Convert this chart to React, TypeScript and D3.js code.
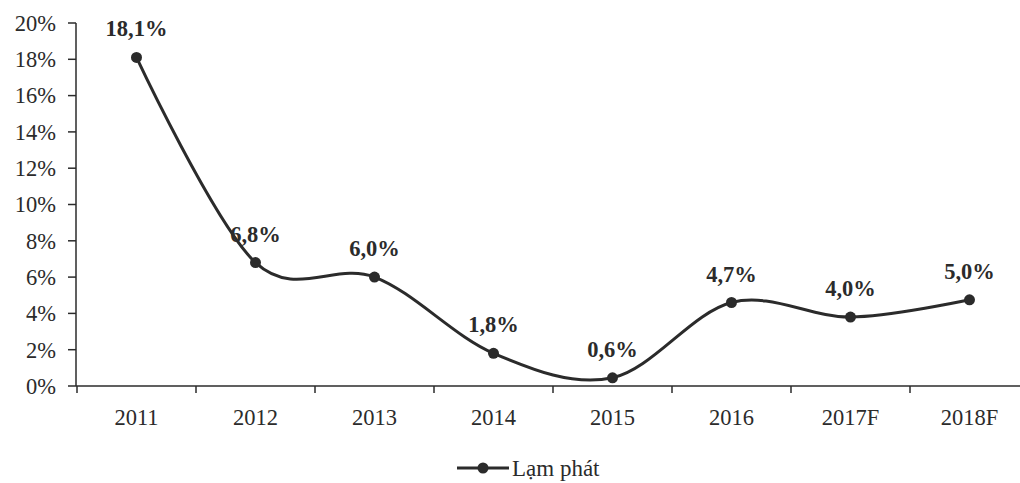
import React from "react";
import * as d3 from "d3";

const categories = ["2011", "2012", "2013", "2014", "2015", "2016", "2017F", "2018F"];
const inflation = [18.1, 6.8, 6.0, 1.8, 0.45, 4.6, 3.8, 4.75];
const pointLabels = ["18,1%", "6,8%", "6,0%", "1,8%", "0,6%", "4,7%", "4,0%", "5,0%"];
const yTicks = [0, 2, 4, 6, 8, 10, 12, 14, 16, 18, 20];
const seriesName = "Lạm phát";

const W = 1020;
const H = 483;

export default function App() {
  const x = d3.scaleBand<string>().domain(categories).range([77, 77 + 119 * 8]);
  const y = d3.scaleLinear().domain([0, 20]).range([386, 23]);
  const cx = (c: string) => (x(c) as number) + x.bandwidth() / 2;
  const pts: [number, number][] = categories.map((c, i) => [cx(c), y(inflation[i])]);
  const line = d3.line().curve(d3.curveCardinal.tension(0))(pts) || "";
  const ink = "#2b2b2b";
  const font = "'Liberation Serif', 'DejaVu Serif', serif";
  return (
    <svg width={W} height={H} style={{ position: "absolute", left: 0, top: 0, background: "#fff" }} fontFamily={font}>
      {/* y axis */}
      <line x1={76} x2={76} y1={y(20)} y2={y(0)} stroke={ink} strokeWidth={1.5} />
      {yTicks.map((t) => (
        <g key={t}>
          <line x1={68} x2={76} y1={y(t)} y2={y(t)} stroke={ink} strokeWidth={1.5} />
          <text x={56} y={y(t)} dy="0.35em" textAnchor="end" fontSize={22.5} fill={ink}>
            {t}%
          </text>
        </g>
      ))}
      {/* x axis */}
      <line x1={76} x2={W} y1={y(0)} y2={y(0)} stroke={ink} strokeWidth={1.5} />
      {categories.map((c) => (
        <line key={"t" + c} x1={x(c) as number} x2={x(c) as number} y1={y(0)} y2={y(0) + 7} stroke={ink} strokeWidth={1.5} />
      ))}
      {categories.map((c) => (
        <text key={"l" + c} x={cx(c)} y={425} textAnchor="middle" fontSize={22.5} fill={ink}>
          {c}
        </text>
      ))}
      {/* series */}
      <path d={line} fill="none" stroke={ink} strokeWidth={3} />
      {pts.map(([px, py], i) => (
        <g key={"p" + i}>
          <circle cx={px} cy={py} r={5.5} fill={ink} />
          <text x={px} y={py - 21} textAnchor="middle" fontSize={22.5} fontWeight="bold" fill={ink}>
            {pointLabels[i]}
          </text>
        </g>
      ))}
      {/* legend */}
      <line x1={457} x2={509} y1={468} y2={468} stroke={ink} strokeWidth={3} />
      <circle cx={483} cy={468} r={5.5} fill={ink} />
      <text x={512} y={476} fontSize={23} fill={ink}>
        {seriesName}
      </text>
    </svg>
  );
}
